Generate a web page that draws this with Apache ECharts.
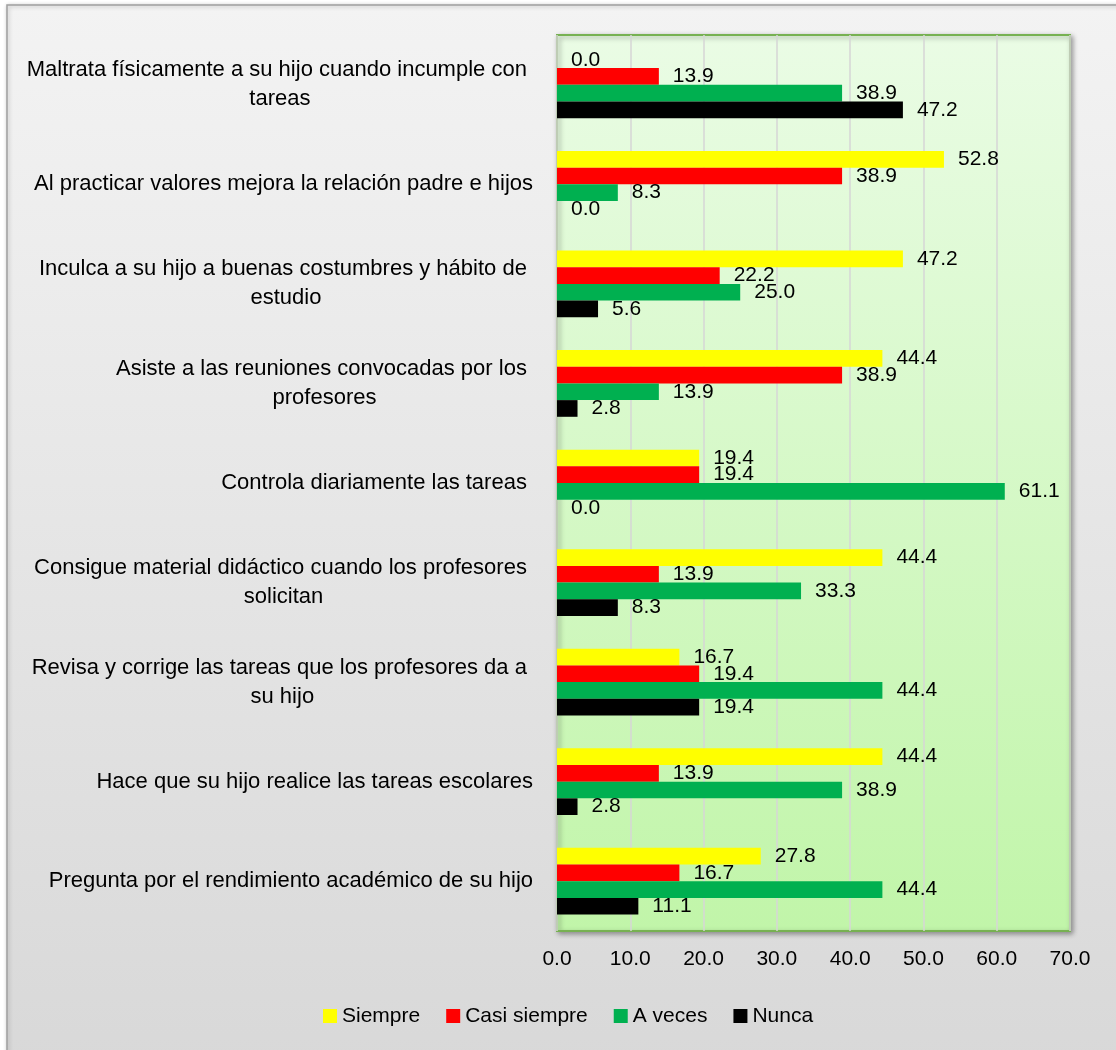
<!DOCTYPE html>
<html>
<head>
<meta charset="utf-8">
<script src="https://cdn.jsdelivr.net/npm/echarts@6/dist/echarts.min.js"></script>
<style>
html,body{margin:0;padding:0;background:#fff;}
#c{width:1116px;height:1050px;}
</style>
</head>
<body>
<div id="c"></div>
<script>
const categories = [
  'Maltrata físicamente a su hijo cuando incumple con \ntareas',
  'Al practicar valores mejora la relación padre e hijos',
  'Inculca a su hijo a buenas costumbres y hábito de \nestudio',
  'Asiste a las reuniones convocadas por los \nprofesores',
  'Controla diariamente las tareas ',
  'Consigue material didáctico cuando los profesores \nsolicitan',
  'Revisa y corrige las tareas que los profesores da a \nsu hijo',
  'Hace que su hijo realice las tareas escolares',
  'Pregunta por el rendimiento académico de su hijo'
];
const seriesNames = ['Siempre', 'Casi siempre', 'A veces', 'Nunca'];
const siempre     = [0.0, 52.8, 47.2, 44.4, 19.4, 44.4, 16.7, 44.4, 27.8];
const casiSiempre = [13.9, 38.9, 22.2, 38.9, 19.4, 13.9, 19.4, 13.9, 16.7];
const aVeces      = [38.9, 8.3, 25.0, 13.9, 61.1, 33.3, 44.4, 38.9, 44.4];
const nunca       = [47.2, 0.0, 5.6, 2.8, 0.0, 8.3, 19.4, 2.8, 11.1];
const xTicks = { min: 0, max: 70, interval: 10 };

const FONT = '"Liberation Sans", Arial, sans-serif';
const colors = ['#FFFF00', '#FF0000', '#00B050', '#000000'];
const values = [siempre, casiSiempre, aVeces, nunca];

const chart = echarts.init(document.getElementById('c'), null, { renderer: 'canvas' });

const series = seriesNames.map((name, i) => ({
  name: name,
  type: 'bar',
  data: values[i],
  barGap: '0%',
  barCategoryGap: '33%',
  itemStyle: { color: colors[i] },
  label: {
    show: true,
    position: 'right',
    distance: 14,
    color: '#000',
    fontFamily: FONT,
    fontSize: 21,
    formatter: p => p.value.toFixed(1)
  },
  emphasis: { disabled: true }
}));

chart.setOption({
  animation: false,
  backgroundColor: '#ffffff',
  color: colors,
  graphic: [{
    type: 'rect',
    z: -100,
    silent: true,
    shape: { x: 7, y: 5, width: 1130, height: 1070 },
    style: {
      fill: new echarts.graphic.LinearGradient(0, 0, 0, 1, [
        { offset: 0, color: '#f3f3f3' },
        { offset: 1, color: '#d8d8d8' }
      ]),
      stroke: '#a0a0a0',
      lineWidth: 1.5,
      shadowBlur: 4,
      shadowColor: 'rgba(0,0,0,0.25)',
      shadowOffsetX: 1,
      shadowOffsetY: 1
    }
  }],
  grid: {
    left: 557,
    top: 35,
    right: 46,
    bottom: 119,
    show: true,
    borderColor: '#77b152',
    borderWidth: 2,
    backgroundColor: new echarts.graphic.LinearGradient(0, 0, 0, 1, [
      { offset: 0, color: '#eafce5' },
      { offset: 1, color: '#c1f5a9' }
    ]),
    shadowBlur: 5,
    shadowColor: 'rgba(0,0,0,0.35)',
    shadowOffsetX: 2,
    shadowOffsetY: 2,
    containLabel: false
  },
  legend: {
    data: seriesNames,
    left: 323,
    top: 1005,
    padding: 0,
    itemWidth: 14,
    itemHeight: 14,
    itemGap: 26,
    icon: 'rect',
    selectedMode: false,
    textStyle: { fontFamily: FONT, fontSize: 21, color: '#000', lineHeight: 22 }
  },
  xAxis: {
    type: 'value',
    min: xTicks.min,
    max: xTicks.max,
    interval: xTicks.interval,
    axisLine: { show: false },
    axisTick: { show: false },
    splitLine: { show: true, lineStyle: { color: '#d6d6d6', width: 1.5 } },
    axisLabel: {
      margin: 18,
      color: '#000',
      fontFamily: FONT,
      fontSize: 21,
      formatter: v => v.toFixed(1)
    }
  },
  yAxis: {
    type: 'category',
    data: categories,
    inverse: true,
    axisLine: { show: false },
    axisTick: { show: false },
    splitLine: { show: false },
    axisLabel: {
      interval: 0,
      margin: 24,
      align: 'right',
      color: '#000',
      fontFamily: FONT,
      fontSize: 22,
      lineHeight: 29,
      formatter: v => v.split('\n').map(s => '{c|' + s + '}').join('\n'),
      rich: {
        c: { align: 'center', fontFamily: FONT, fontSize: 22, lineHeight: 29, color: '#000' }
      }
    }
  },
  series: series
});
</script>
</body>
</html>
